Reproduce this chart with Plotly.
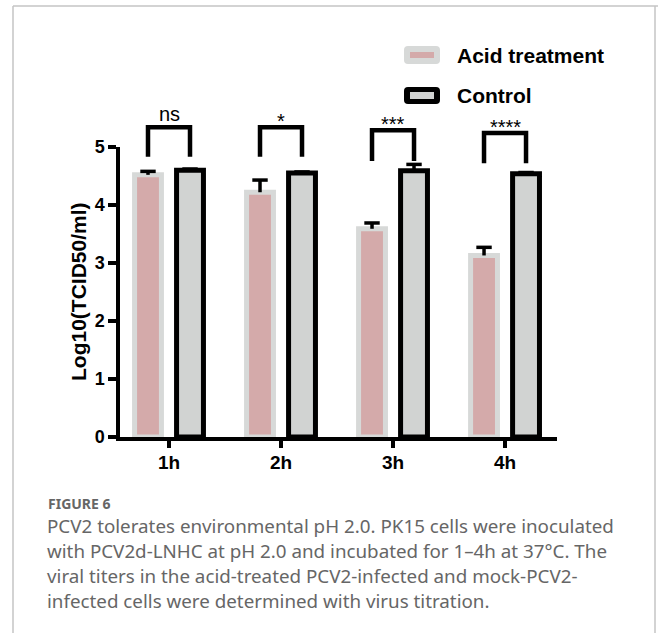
import plotly.graph_objects as go

# ---------------- data ----------------
categories = ["1h", "2h", "3h", "4h"]
acid_values = [4.52, 4.22, 3.59, 3.13]
acid_errors = [0.06, 0.21, 0.10, 0.14]
control_values = [4.60, 4.55, 4.59, 4.54]
control_errors = [0.02, 0.02, 0.11, 0.02]
sig_labels = ["ns", "*", "***", "****"]
bracket_tops = [5.34, 5.34, 5.29, 5.24]
bracket_bottoms = [4.83, 4.83, 4.76, 4.72]
y_ticks = [0, 1, 2, 3, 4, 5]
series_names = ["Acid treatment", "Control"]
caption_title = "FIGURE 6"
caption_lines = [
    "PCV2 tolerates environmental pH 2.0. PK15 cells were inoculated",
    "with PCV2d-LNHC at pH 2.0 and incubated for 1\u20134h at 37\u00b0C. The",
    "viral titers in the acid-treated PCV2-infected and mock-PCV2-",
    "infected cells were determined with virus titration.",
]

# ---------------- layout constants ----------------
W, H = 658, 633
L, R, T, B = 120, 101, 147, 196
PW, PH = W - L - R, H - T - B
XR = [-0.4375, 3.464]
YR = [0, 5]
OFF = 0.1875
BW = 0.24
FONT = "Liberation Sans, Arial, sans-serif"

PINK = "#d4aaaa"
LGRAY = "#d7d9d8"
CGRAY = "#d1d3d2"


def PX(p):  # pixel x -> paper
    return (p - L) / PW


def PY(p):  # pixel y -> paper
    return (H - B - p) / PH


def dx(v):  # data x -> paper
    return (v - XR[0]) / (XR[1] - XR[0])


def dy(v):  # data y -> paper
    return (v - YR[0]) / (YR[1] - YR[0])


xpos = list(range(len(categories)))

fig = go.Figure()

fig.add_trace(go.Bar(
    x=xpos, y=acid_values, name=series_names[0],
    width=BW, offset=-OFF - BW / 2,
    marker=dict(color=PINK, line=dict(color=LGRAY, width=5)),
    error_y=dict(type="data", array=acid_errors, arrayminus=[0] * 4,
                 symmetric=False, color="black", thickness=3.5, width=0),
    showlegend=False,
))
fig.add_trace(go.Bar(
    x=xpos, y=control_values, name=series_names[1],
    width=BW, offset=OFF - BW / 2,
    marker=dict(color=CGRAY, line=dict(color="black", width=5)),
    error_y=dict(type="data", array=control_errors, arrayminus=[0] * 4,
                 symmetric=False, color="black", thickness=3.5, width=0),
    showlegend=False,
))
# error bar caps
fig.add_trace(go.Scatter(
    x=[i - OFF for i in xpos] + [i + OFF for i in xpos],
    y=[v + e for v, e in zip(acid_values, acid_errors)] +
      [v + e for v, e in zip(control_values, control_errors)],
    mode="markers", cliponaxis=False, showlegend=False, hoverinfo="skip",
    marker=dict(symbol="line-ew", size=11, color="black",
                line=dict(width=3.5, color="black")),
))

shapes = []
annotations = []

# significance brackets
for i, (lab, top, bot) in enumerate(zip(sig_labels, bracket_tops, bracket_bottoms)):
    x1, x2 = dx(i - OFF), dx(i + OFF)
    yt, yb = dy(top), dy(bot)
    shapes.append(dict(type="path", xref="paper", yref="paper",
                       path=f"M {x1},{yb} L {x1},{yt} L {x2},{yt} L {x2},{yb}",
                       line=dict(color="black", width=4.5)))
    is_ns = lab == "ns"
    annotations.append(dict(text=lab, xref="paper", yref="paper", x=dx(i), y=yt,
                            xanchor="center", yanchor="bottom", showarrow=False,
                            yshift=0 if is_ns else -7,
                            font=dict(family=FONT, size=20, color="black")))

# y title
annotations.append(dict(text="Log10(TCID50/ml)", xref="paper", yref="paper",
                        x=PX(78), y=0.5, textangle=-90, showarrow=False,
                        xanchor="center", yanchor="middle",
                        font=dict(family=FONT, size=21, color="black", weight="bold")))


def rrect(x0, y0, x1, y1, r):
    # rounded rectangle path in paper coords from pixel box
    X0, X1 = PX(x0), PX(x1)
    Y0, Y1 = PY(y0), PY(y1)
    rx, ry = r / PW, r / PH
    return (f"M {X0 + rx},{Y0} L {X1 - rx},{Y0} Q {X1},{Y0} {X1},{Y0 - ry} "
            f"L {X1},{Y1 + ry} Q {X1},{Y1} {X1 - rx},{Y1} L {X0 + rx},{Y1} "
            f"Q {X0},{Y1} {X0},{Y1 + ry} L {X0},{Y0 - ry} Q {X0},{Y0} {X0 + rx},{Y0} Z")


# legend swatches
shapes.append(dict(type="path", xref="paper", yref="paper", path=rrect(404, 46, 440, 64, 4),
                   fillcolor=LGRAY, line=dict(width=0)))
shapes.append(dict(type="rect", xref="paper", yref="paper", x0=PX(410), x1=PX(434),
                   y0=PY(52), y1=PY(58), fillcolor=PINK, line=dict(width=0)))
shapes.append(dict(type="path", xref="paper", yref="paper", path=rrect(404, 87, 440, 104, 4),
                   fillcolor="black", line=dict(width=0)))
shapes.append(dict(type="rect", xref="paper", yref="paper", x0=PX(410), x1=PX(434),
                   y0=PY(92), y1=PY(99), fillcolor=CGRAY, line=dict(width=0)))
for name, yc in zip(series_names, [55, 95]):
    annotations.append(dict(text=name, xref="paper", yref="paper", x=PX(455), y=PY(yc),
                            xanchor="left", yanchor="middle", showarrow=False,
                            font=dict(family=FONT, size=21, color="black", weight="bold")))

# frame
FR = "#c4c4c4"
shapes.append(dict(type="line", xref="paper", yref="paper", x0=PX(13), x1=PX(13),
                   y0=PY(6), y1=PY(640), line=dict(color=FR, width=1.5)))
shapes.append(dict(type="line", xref="paper", yref="paper", x0=PX(13), x1=PX(665),
                   y0=PY(6), y1=PY(6), line=dict(color=FR, width=1.5)))
shapes.append(dict(type="line", xref="paper", yref="paper", x0=PX(655), x1=PX(655),
                   y0=PY(6), y1=PY(640), line=dict(color=FR, width=1.5)))

# caption
annotations.append(dict(text=caption_title, xref="paper", yref="paper", x=PX(46), y=PY(503),
                        xanchor="left", yanchor="middle", showarrow=False,
                        font=dict(family="Noto Sans", size=14, color="#666666", weight="bold")))
for line, yc in zip(caption_lines, [526, 551, 576, 601]):
    annotations.append(dict(text=line, xref="paper", yref="paper", x=PX(45), y=PY(yc),
                            xanchor="left", yanchor="middle", showarrow=False,
                            font=dict(family="Noto Sans", size=18.8, color="#666666")))

fig.update_layout(
    width=W, height=H, autosize=False,
    margin=dict(l=L, r=R, t=T, b=B, pad=0),
    paper_bgcolor="white", plot_bgcolor="white",
    barmode="overlay", showlegend=False,
    shapes=shapes, annotations=annotations,
    xaxis=dict(range=XR, tickmode="array", tickvals=xpos, ticktext=categories,
               showline=True, linewidth=3.5, linecolor="black",
               ticks="outside", ticklen=7, tickwidth=3.5, tickcolor="black",
               showgrid=False, zeroline=False, ticklabelstandoff=-2,
               tickfont=dict(family=FONT, size=19, color="black", weight="bold")),
    yaxis=dict(range=YR, tickmode="array", tickvals=y_ticks,
               showline=True, linewidth=3.5, linecolor="black",
               ticks="outside", ticklen=8, tickwidth=3.5, tickcolor="black",
               showgrid=False, zeroline=False,
               tickfont=dict(family=FONT, size=18, color="black", weight="bold")),
)

fig.write_html("out.html", config={"displayModeBar": False},
               post_script="document.body.style.margin='0';document.body.style.overflow='hidden';")
